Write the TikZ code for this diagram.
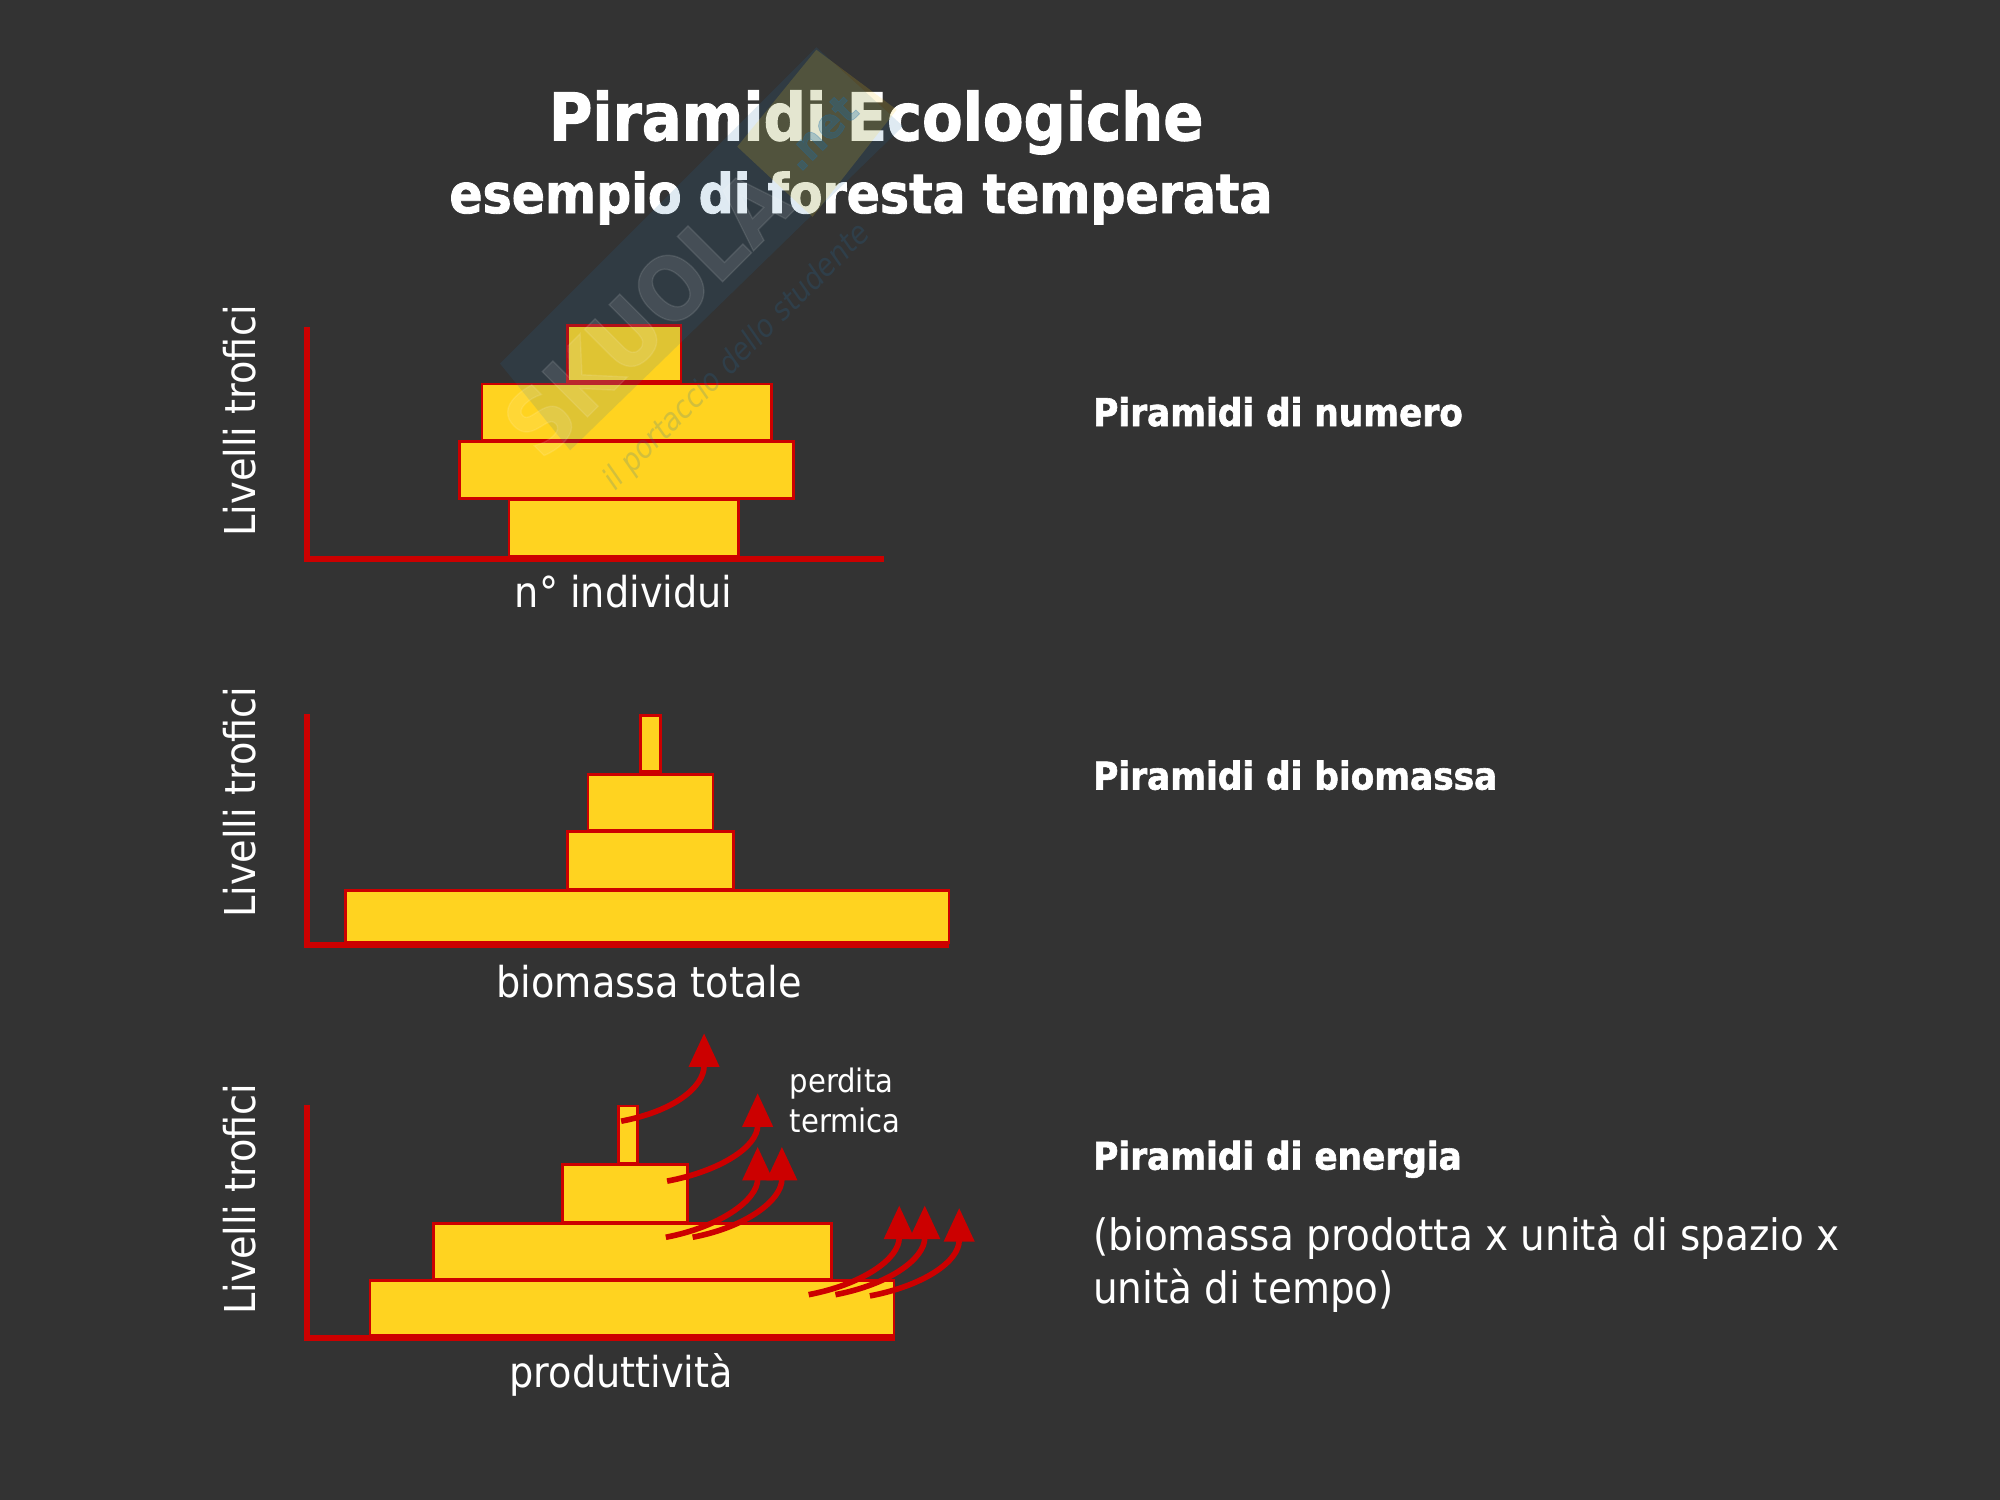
\documentclass[tikz,border=0pt]{standalone}
\usepackage{fontspec}
\setmainfont{DejaVu Sans Condensed}
\newfontfamily\heavy[FakeBold=1.6]{DejaVu Sans Condensed Bold}
\usetikzlibrary{arrows.meta}
\definecolor{bg}{HTML}{333333}
\definecolor{redl}{HTML}{CC0000}
\definecolor{gold}{HTML}{FFD320}
\definecolor{wmblue}{HTML}{1F6FA8}
\tikzset{
  x=0.063776cm,y=-0.063776cm,
  bar/.style={draw=redl,line width=3.8pt,fill=gold},
  axis/.style={draw=redl,line width=8.5pt,line cap=butt,line join=miter},
  heat/.style={draw=redl,line width=8pt,-{Triangle[length=48pt,width=42pt]}},
  txt/.style={text=white,inner sep=0pt,anchor=base west},
  title/.style={text=white,inner sep=0pt,anchor=base},
  ylab/.style={text=white,inner sep=0pt,rotate=90,anchor=center,font=\fontsize{60.5}{72}\selectfont},
  xlab/.style={text=white,inner sep=0pt,anchor=base,font=\fontsize{60.5}{72}\selectfont},
  side/.style={txt,font=\fontsize{54.3}{64}\selectfont\heavy},
}
\begin{document}
\begin{tikzpicture}
\useasboundingbox (0,0) rectangle (1568,1176);
\fill[bg] (0,0) rectangle (1568,1176);
% title
\node[title,font=\fontsize{93.5}{110}\selectfont\heavy] (t1) at (687,110) {Piramidi Ecologiche};
\node[title,font=\fontsize{77.5}{90}\selectfont\heavy] (t2) at (675,167) {esempio di foresta temperata};
% pyramid 1
\draw[axis] (241,256) -- (241,438) -- (693,438);
\draw[bar] (445,255) rectangle (534,299);
\draw[bar] (378,301) rectangle (605,345);
\draw[bar] (360,346) rectangle (622,391);
\draw[bar] (399,392) rectangle (579,436);
\node[ylab] (y1) at (188,330) {Livelli trofici};
\node[xlab] (x1) at (489,476) {n° individui};
\node[side] (s1) at (857,334) {Piramidi di numero};
% pyramid 2
\draw[axis] (241,560) -- (241,741) -- (744,741);
\draw[bar] (502,561) rectangle (518,605);
\draw[bar] (461,607) rectangle (559,651);
\draw[bar] (445,652) rectangle (575,697);
\draw[bar] (271,698) rectangle (744,739);
\node[ylab] (y2) at (188,629) {Livelli trofici};
\node[xlab] (x2) at (509,782) {biomassa totale};
\node[side] (s2) at (857,619) {Piramidi di biomassa};
% pyramid 3
\draw[axis] (241,866) -- (241,1049) -- (702,1049);
\draw[bar] (485,867) rectangle (500,912);
\draw[bar] (441,913) rectangle (539,958);
\draw[bar] (340,959) rectangle (652,1003);
\draw[bar] (290,1004) rectangle (701,1047);
\node[ylab] (y3) at (188,940) {Livelli trofici};
\node[xlab] (x3) at (487,1088) {produttività};
\node[side] (s3) at (857,917) {Piramidi di energia};
\node[txt,font=\fontsize{61.6}{75}\selectfont,align=left,anchor=north west] (s4) at (857,953) {(biomassa prodotta x unità di spazio x\\unità di tempo)};
% heat
\foreach \xa/\ya/\xb/\yb in {487/879/552/810,523/926/594/857,522/970/594/899,543/970/613/899,634/1015/705/945,655/1015/725/945,682/1016/752/947}
  \draw[heat] (\xa,\ya) .. controls (\xa+42,\ya-8) and (\xb,\yb+42) .. (\xb,\yb);
\node[txt,font=\fontsize{46}{57}\selectfont,align=left,anchor=north west] (s5) at (619,837) {perdita\\termica};
% watermark
\fill[wmblue,opacity=0.14] (392,285) -- (640,37) -- (708,99) -- (447,353) -- cycle;
\fill[gold,opacity=0.16] (578,115) -- (640,39) -- (703,86) -- (637,170) -- cycle;
\node[text=white,opacity=0.1,rotate=45,font=\fontsize{125}{125}\selectfont\heavy,inner sep=0pt] (w1) at (507,245) {SKUOLA};
\node[text=wmblue,opacity=0.3,rotate=45,font=\fontsize{60}{60}\selectfont\heavy,inner sep=0pt] (w2) at (643,104) {.net};
\node[text=wmblue,opacity=0.2,rotate=45,font=\fontsize{44}{44}\selectfont\itshape,inner sep=0pt] (w3) at (578,280) {il portaccio dello studente};
\end{tikzpicture}
\end{document}
